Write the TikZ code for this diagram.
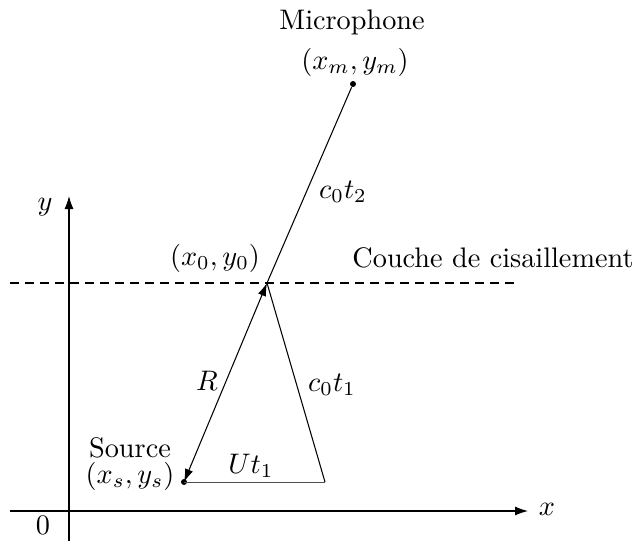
\documentclass[tikz,border=0pt]{standalone}
\usetikzlibrary{arrows.meta}
\tikzset{
  arr/.tip={Latex[length=5.2pt,width=3.4pt]},
  lbl/.style={inner sep=0pt, scale=1.13},
  ln/.style={line width=0.42pt, black},
  axis/.style={ln, -{Latex[length=5.2pt,width=3.6pt]}},
  dot/.style={circle, fill=black, inner sep=0pt, minimum size=2.4pt}
}
\begin{document}
\begin{tikzpicture}[x=0.4pt,y=-0.4pt]
\useasboundingbox (0,0) rectangle (633,541);
% axes
\coordinate (yb) at (69,541);
\coordinate (yt) at (69,196);
\coordinate (xl) at (10,511);
\coordinate (xr) at (528,511);
\draw[axis] (yb) -- (yt);
\draw[axis] (xl) -- (xr);
\node[lbl] (ylab) at (45,207) {$y$};
\node[lbl] (xlab) at (547,509) {$x$};
\node[lbl] (zero) at (43,525) {$0$};
% shear layer
\coordinate (dl) at (10,283);
\coordinate (dr) at (520,283);
\draw[ln, dash pattern=on 3.6pt off 2.4pt] (dl) -- (dr);
\node[lbl] (couche) at (493,258) {Couche de cisaillement};
% points
\coordinate (P0) at (267,283);
\node[dot] (M) at (353,84) {};
\node[dot] (S) at (184,482) {};
\coordinate (T) at (325,482);
% lines
\draw[ln] (P0) -- (M);
\draw[ln, arr-arr] (S.center) -- (P0);
\draw[ln] (P0) -- (T);
\draw[line width=0.36pt, black!70] (S.center) -- (T);
% labels
\node[lbl] (mic) at (352,22) {Microphone};
\node[lbl] (micxy) at (355,62) {$(x_m,y_m)$};
\node[lbl] (ct2) at (343,192) {$c_0t_2$};
\node[lbl] (x0y0) at (215,258) {$(x_0,y_0)$};
\node[lbl] (R) at (207,381) {$R$};
\node[lbl] (ct1) at (332,385) {$c_0t_1$};
\node[lbl] (Ut) at (251,466) {$Ut_1$};
\node[lbl] (src) at (130,448) {Source};
\node[lbl] (srcxy) at (130,476) {$(x_s,y_s)$};
\end{tikzpicture}
\end{document}
